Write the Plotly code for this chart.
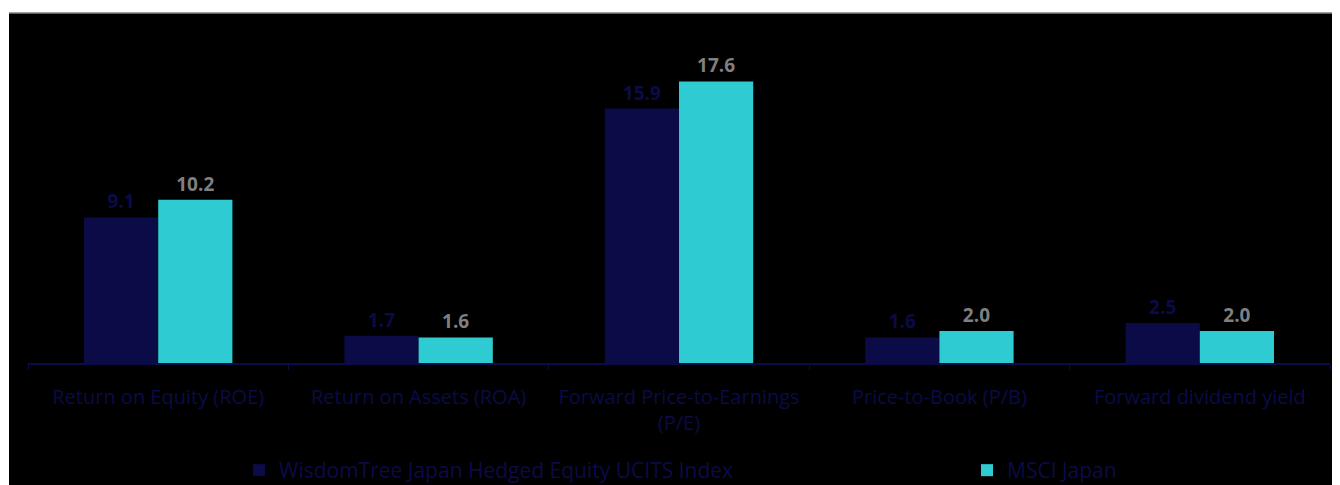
import plotly.graph_objects as go

categories = ["Return on Equity (ROE)", "Return on Assets (ROA)",
              "Forward Price-to-Earnings<br>(P/E)", "Price-to-Book (P/B)",
              "Forward dividend yield"]
wisdomtree = [9.1, 1.7, 15.9, 1.6, 2.5]
msci = [10.2, 1.6, 17.6, 2.0, 2.0]
series_names = ["WisdomTree Japan Hedged Equity UCITS Index", "MSCI Japan"]

NAVY = "#0b0b48"
CYAN = "#2ecbd3"
GREY = "#7f7f7f"
FONT = "Open Sans"

OFF = 8  # page body margin
W, H = 1332, 477
ML, MR, MT, MB = 20, 10, 35, 122
PW = W - ML - MR
PH = H - MT - MB

def px_x(p):
    return (p - OFF - ML) / PW

def px_y(p):
    return (H - MB - (p - OFF)) / PH

def cx(p):
    return (p - OFF) / W

def cy(p):
    return (H - (p - OFF)) / H

fig = go.Figure()
fig.add_trace(go.Bar(
    x=categories, y=wisdomtree, name=series_names[0],
    marker=dict(color=NAVY, line=dict(width=0)),
    text=[f"{v:.1f}" for v in wisdomtree], textposition="outside",
    textfont=dict(color=NAVY, size=19, family=FONT, weight="bold"),
    cliponaxis=False, legend="legend",
))
fig.add_trace(go.Bar(
    x=categories, y=msci, name=series_names[1],
    marker=dict(color=CYAN, line=dict(width=0)),
    text=[f"{v:.1f}" for v in msci], textposition="outside",
    textfont=dict(color=GREY, size=19, family=FONT, weight="bold"),
    cliponaxis=False, legend="legend2",
))

fig.update_layout(
    width=W, height=H,
    margin=dict(l=ML, r=MR, t=MT, b=MB, pad=0, autoexpand=False),
    paper_bgcolor="white", plot_bgcolor="rgba(0,0,0,0)",
    barmode="group", bargap=0.43, bargroupgap=0,
    font=dict(family=FONT, color=NAVY, size=16),
    showlegend=True,
    legend=dict(orientation="h", xref="container", yref="container",
                x=cx(239), y=cy(450), xanchor="left", yanchor="top",
                bgcolor="rgba(0,0,0,0)", font=dict(size=21, color=NAVY, family=FONT)),
    legend2=dict(orientation="h", xref="container", yref="container",
                 x=cx(967), y=cy(450), xanchor="left", yanchor="top",
                 bgcolor="rgba(0,0,0,0)", font=dict(size=21, color=NAVY, family=FONT)),
    xaxis=dict(showline=True, linecolor=NAVY, linewidth=1.5, ticks="outside",
               tickson="boundaries", ticklen=5, tickcolor=NAVY,
               ticklabelstandoff=15,
               tickfont=dict(size=20, color=NAVY, family=FONT), showgrid=False),
    yaxis=dict(range=[0, 20], visible=False, showgrid=False, zeroline=False),
    shapes=[
        dict(type="rect", xref="paper", yref="paper",
             x0=px_x(9), x1=px_x(1345), y0=px_y(490), y1=px_y(13),
             fillcolor="black", line=dict(width=0), layer="below"),
        dict(type="line", xref="paper", yref="paper",
             x0=px_x(9), x1=px_x(1345), y0=px_y(13), y1=px_y(13),
             line=dict(color="#808080", width=1.5), layer="below"),
    ],
)

fig.write_html("out.html")
